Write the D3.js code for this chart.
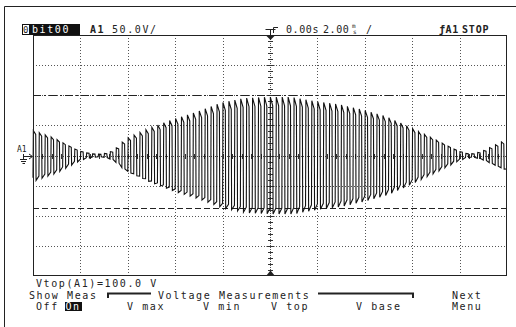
<!DOCTYPE html>
<meta charset="utf-8">
<style>
 body { margin: 0; background: #fff; }
 svg { display: block; }
 text { font-family: 'DejaVu Sans Mono', monospace; font-size: 10px; letter-spacing: 1.6px; fill: #222; }
 .b { font-weight: bold; }
 .n { letter-spacing: 0.6px; }
</style>
<svg width="516" height="327"></svg>
<script src="https://d3js.org/d3.v7.min.js"></script>
<script>
 // envelope of the trace (ms, volts)
 var timeMs    = [-10, -9, -8, -7.5, -7, -6.5, -6, -5, -4, -3, -2, -1, 0, 1, 2, 3, 4, 5, 6, 7, 8, 8.5, 9, 10];
 var envelopeV = [43, 29, 8, 3, 2, 8, 27, 45, 60, 72, 87, 95, 97, 97, 90, 85, 76, 65, 47, 28, 8, 2, 6, 25];
 var carrierPeriodMs = 0.25;
 var vTop = 100, vBase = -87.5;
 var menuLabels = ['V max', 'V min', 'V top', 'V base'];

 var svg = d3.select('svg');
 var x = d3.scaleLinear().domain([-10, 10]).range([33, 507]);
 var y = d3.scaleLinear().domain([-200, 200]).range([276, 35]);
 var env = d3.scaleLinear().domain(timeMs).range(envelopeV);

 // outer frame (top and left only)
 svg.append('path').attr('d', 'M4.5,327V6.5H516').attr('fill', 'none').attr('stroke', '#222');

 // grid
 var g = svg.append('g');
 g.selectAll('.vx').data(d3.range(-8, 10, 2).filter(function(d) { return d !== 0; }))
  .enter().append('line')
  .attr('x1', function(d) { return Math.round(x(d)) + 0.5; })
  .attr('x2', function(d) { return Math.round(x(d)) + 0.5; })
  .attr('y1', y(200)).attr('y2', y(-200))
  .attr('stroke', '#555').attr('stroke-dasharray', '1,2');
 g.selectAll('.hy').data([-150, -100, -50, 50, 100, 150])
  .enter().append('line')
  .attr('y1', function(d) { return Math.round(y(d)) + 0.5; })
  .attr('y2', function(d) { return Math.round(y(d)) + 0.5; })
  .attr('x1', x(-10)).attr('x2', x(10))
  .attr('stroke', '#555').attr('stroke-dasharray', '1,2');

 // centre axes with minor ticks
 var cx = Math.round(x(0)) + 0.5, cy = Math.round(y(0)) + 0.5;
 g.append('line').attr('x1', cx).attr('x2', cx).attr('y1', y(200)).attr('y2', y(-200))
  .attr('stroke', '#555').attr('stroke-dasharray', '1,1');
 g.append('line').attr('y1', cy).attr('y2', cy).attr('x1', x(-10)).attr('x2', x(10))
  .attr('stroke', '#555').attr('stroke-dasharray', '1,1');
 g.selectAll('.ty').data(d3.range(-190, 200, 10))
  .enter().append('line')
  .attr('y1', function(d) { return Math.round(y(d)) + 0.5; })
  .attr('y2', function(d) { return Math.round(y(d)) + 0.5; })
  .attr('x1', function(d) { return cx - (d % 50 === 0 ? 4 : 2.5); })
  .attr('x2', function(d) { return cx + (d % 50 === 0 ? 4 : 2.5); })
  .attr('stroke', '#333');
 g.selectAll('.tx').data(d3.range(-9.6, 10, 0.4))
  .enter().append('line')
  .attr('x1', function(d) { return Math.round(x(d)) + 0.5; })
  .attr('x2', function(d) { return Math.round(x(d)) + 0.5; })
  .attr('y1', cy - 2.5).attr('y2', cy + 2.5)
  .attr('stroke', '#333');

 // Vtop / Vbase markers
 svg.append('line').attr('x1', x(-10)).attr('x2', x(10))
  .attr('y1', Math.round(y(vTop)) + 0.5).attr('y2', Math.round(y(vTop)) + 0.5)
  .attr('stroke', '#222').attr('stroke-dasharray', '8,3,2,3');
 svg.append('line').attr('x1', x(-10)).attr('x2', x(10))
  .attr('y1', Math.round(y(vBase)) + 0.5).attr('y2', Math.round(y(vBase)) + 0.5)
  .attr('stroke', '#222').attr('stroke-dasharray', '6,3');

 // trace: one square-ish cycle per carrier period, scaled by the envelope
 var pts = [];
 var nCycles = Math.round(20 / carrierPeriodMs);
 for (var i = 0; i < nCycles; i++) {
   var t0 = -10 + i * carrierPeriodMs;
   var a = env(t0 + carrierPeriodMs / 2);
   var p = carrierPeriodMs;
   pts.push([t0, -a * 0.9]);
   pts.push([t0 + p * 0.06, a]);
   pts.push([t0 + p * 0.46, a * 0.85]);
   pts.push([t0 + p * 0.52, -a]);
 }
 pts.push([10, -env(10) * 0.9]);
 svg.append('path')
  .attr('d', d3.line().x(function(d) { return x(d[0]); }).y(function(d) { return y(d[1]); })(pts))
  .attr('fill', 'none').attr('stroke', '#111').attr('stroke-width', 1.1);

 // plot frame
 svg.append('rect').attr('x', 33.5).attr('y', 35.5).attr('width', 473).attr('height', 240)
  .attr('fill', 'none').attr('stroke', '#222');

 // trigger markers on centre line
 svg.append('path').attr('d', 'M265.5,29.5H275.5M270.5,29.5V35').attr('stroke', '#222').attr('fill', 'none');
 svg.append('path').attr('d', 'M266,35.5H275L270.5,40Z').attr('fill', '#222');
 svg.append('path').attr('d', 'M273.5,33V27.5H278').attr('stroke', '#222').attr('fill', 'none');
 svg.append('path').attr('d', 'M266,276H275L270.5,270.5Z').attr('fill', '#222');

 // channel marker at left
 svg.append('text').attr('x', 17).attr('y', 152).style('font-size', '8px').style('letter-spacing', '0px').text('A1');
 svg.append('path').attr('d', 'M23.5,154V159M20,159.5H27M21,161.5H26M22.5,163.5H25M24,156.5H32M29,154L32.5,156.5L29,159')
  .attr('stroke', '#222').attr('fill', 'none');

 // header
 svg.append('rect').attr('x', 22).attr('y', 24).attr('width', 58).attr('height', 11).attr('fill', '#111');
 svg.append('rect').attr('x', 23).attr('y', 25).attr('width', 6).attr('height', 9).attr('fill', '#fff');
 svg.append('text').attr('x', 23).attr('y', 33).style('letter-spacing', '0px').style('font-size', '9px').text('0');
 svg.append('text').attr('x', 32).attr('y', 33).style('fill', '#fff').text('bit00');
 svg.append('text').attr('class', 'b').attr('x', 90).attr('y', 33).text('A1');
 svg.append('text').attr('x', 112).attr('y', 33).text('50.0V/');
 svg.append('text').attr('class', 'n').attr('x', 286).attr('y', 33).text('0.00s');
 svg.append('text').attr('class', 'n').attr('x', 323).attr('y', 33).text('2.00');
 svg.append('text').attr('x', 352).attr('y', 28).style('font-size', '6px').style('letter-spacing', '0px').text('m');
 svg.append('text').attr('x', 353).attr('y', 33.5).style('font-size', '6px').style('letter-spacing', '0px').text('s');
 svg.append('text').attr('x', 366).attr('y', 33).text('/');
 svg.append('text').attr('class', 'b n').attr('x', 439).attr('y', 33).text('ƒA1');
 svg.append('text').attr('class', 'b').attr('x', 462).attr('y', 33).style('letter-spacing', '0.8px').text('STOP');

 // measurement readout and soft-key menu
 svg.append('text').attr('x', 36).attr('y', 286.5).text('Vtop(A1)=' + vTop.toFixed(1) + ' V');
 svg.append('text').attr('x', 29).attr('y', 298.5).text('Show Meas');
 svg.append('text').attr('x', 158).attr('y', 298.5).text('Voltage Measurements');
 svg.append('path').attr('d', 'M108,298V293.5H151M318,293.5H413V298').attr('stroke', '#222').attr('stroke-width', 2).attr('fill', 'none');
 svg.append('text').attr('x', 452).attr('y', 298.5).text('Next');
 svg.append('text').attr('x', 452).attr('y', 310).text('Menu');
 svg.append('text').attr('x', 36).attr('y', 310).text('Off');
 svg.append('rect').attr('x', 65).attr('y', 302).attr('width', 17).attr('height', 9).attr('fill', '#111');
 svg.append('text').attr('x', 65.5).attr('y', 310).style('fill', '#fff').text('On');
 var menuX = [127, 203, 271, 356];
 svg.selectAll('.menu').data(menuLabels).enter().append('text')
  .attr('x', function(d, i) { return menuX[i]; }).attr('y', 310)
  .text(function(d) { return d; });
</script>
